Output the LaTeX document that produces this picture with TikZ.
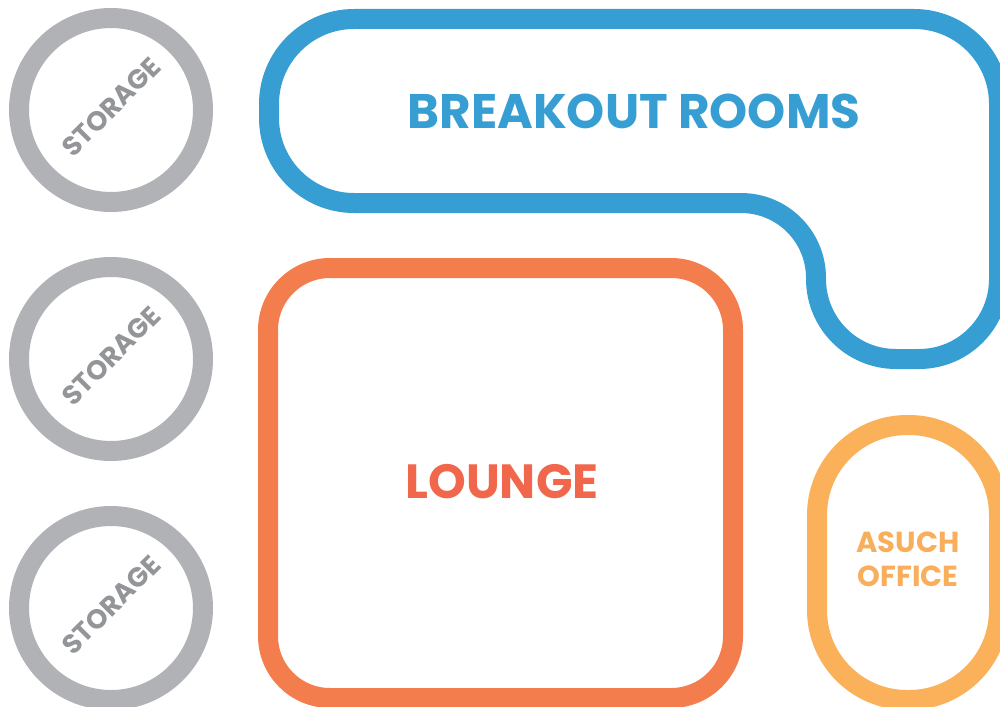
\documentclass[tikz,border=0pt]{standalone}
\usepackage{fontspec}
\setmainfont{Poppins}
\definecolor{brblue}{HTML}{379ED3}
\definecolor{stgray}{HTML}{B1B2B6}
\definecolor{sttext}{HTML}{939598}
\definecolor{lgline}{HTML}{F47D4E}
\definecolor{lgtext}{HTML}{F0674B}
\definecolor{ofline}{HTML}{FAB15A}
\definecolor{oftext}{HTML}{F9AE5B}
\tikzset{
  wall/.style={line width=20pt, line join=round},
  storagering/.style={circle, draw=stgray, line width=20pt, minimum size=184pt, inner sep=0pt},
  storagelabel/.style={text=sttext, font=\bfseries\fontsize{27}{27}\selectfont, rotate=45, inner sep=0pt},
  roomlabel/.style={font=\bfseries, align=center}
}
\begin{document}
\begin{tikzpicture}[x=1pt,y=-1pt]
\useasboundingbox (0,0) rectangle (1000,706);
% storage rooms
\foreach \n/\cy in {1/110,2/359,3/608}{
  \node[storagering] (st\n) at (111,\cy) {};
  \node[storagelabel] (stl\n) at (111,\cy-3) {STORAGE};
}
% breakout rooms
\draw[wall, draw=brblue]
  (354,19) -- (914,19) arc[start angle=270, end angle=360, radius=85]
  -- (999,279) arc[start angle=0, end angle=90, radius=80]
  -- (896,359) arc[start angle=90, end angle=180, radius=80]
  -- (816,278) arc[start angle=0, end angle=-90, radius=75]
  -- (354,203) arc[start angle=90, end angle=180, radius=85]
  -- (269,104) arc[start angle=180, end angle=270, radius=85] -- cycle;
\node[roomlabel, text=brblue, font=\bfseries\fontsize{48.5}{48.5}\selectfont] (br) at (634,111) {BREAKOUT ROOMS};
% lounge
\draw[wall, draw=lgline, rounded corners=62pt] (268,268) rectangle (733,698);
\node[roomlabel, text=lgtext, font=\bfseries\fontsize{48}{48}\selectfont] (lg) at (502,482) {LOUNGE};
% asuch office
\draw[wall, draw=ofline, rounded corners=90pt] (817,425) rectangle (999,700);
\node[roomlabel, text=oftext, font=\bfseries\fontsize{29}{34}\selectfont] (of) at (908,559) {ASUCH\\OFFICE};
\end{tikzpicture}
\end{document}
